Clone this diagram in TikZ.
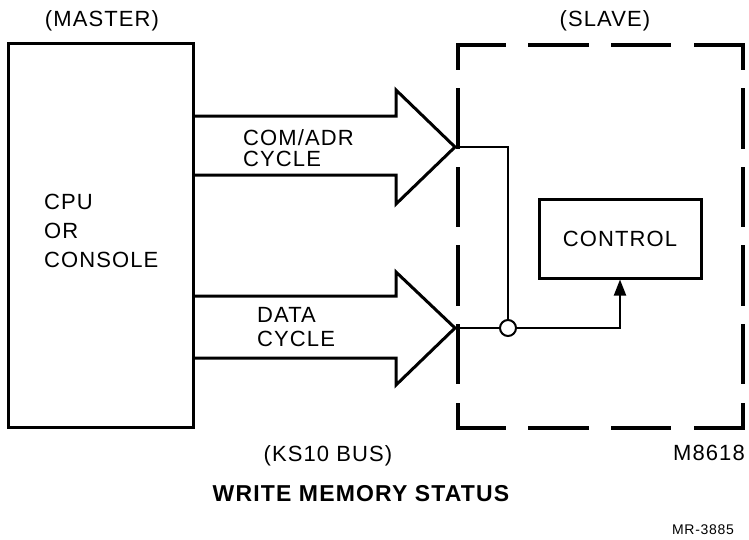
\documentclass[tikz,border=0pt]{standalone}
\usepackage{fontspec}
\setmainfont{Liberation Sans}[LetterSpace=5]
\usepackage{tikz}
\usetikzlibrary{arrows.meta,positioning}

\tikzset{
  box/.style={draw, line width=3pt, inner sep=0pt},
  bus/.style={line width=3pt, line join=miter},
  wire/.style={line width=2pt},
  slaveline/.style={line width=4.5pt, line cap=rect},
  lbl/.style={font=\fontsize{22}{29}\selectfont, inner sep=0pt}
}

\begin{document}
\begin{tikzpicture}[x=1pt, y=-1pt]
\useasboundingbox (0,0) rectangle (749,539);

% Master and slave
\node[box, minimum width=185, minimum height=384] (master) at (100.5,235) {};
\node[lbl, anchor=west, align=left] (cpu) at (44,231) {CPU\\OR\\CONSOLE};
\node[lbl] (mastertitle) at (102,21) {(MASTER)};

\node[minimum width=285, minimum height=383, inner sep=0pt] (slave) at (600.5,236.5) {};
\draw[slaveline, dash pattern=on 56 off 26.7, dash phase=10] (slave.north west) -- (slave.north east);
\draw[slaveline, dash pattern=on 56 off 26.7, dash phase=10] (slave.south west) -- (slave.south east);
\draw[slaveline, dash pattern=on 56 off 22.6, dash phase=33] (slave.north west) -- (slave.south west);
\draw[slaveline, dash pattern=on 56 off 22.6, dash phase=33] (slave.north east) -- (slave.south east);
\node[lbl] (slavetitle) at (605,21) {(SLAVE)};
\node[lbl, anchor=east] (board) at (745,453) {M8618};

\node[box, minimum width=162, minimum height=79] (control) at (620,238.5) {};
\node[lbl] (controltext) at (control) {CONTROL};

% Bus transfers
\coordinate (adrtip) at (455,147);
\coordinate (datatip) at (455,328);
\draw[bus] (193,116) -- (396,116) -- (396,90) -- (adrtip) -- (396,204) -- (396,175) -- (193,175);
\draw[bus] (193,296) -- (396,296) -- (396,272) -- (datatip) -- (396,385) -- (396,358) -- (193,358);
\node[lbl, anchor=west, align=left, font=\fontsize{22}{21}\selectfont] (adrtext) at (243,148) {COM/ADR\\CYCLE};
\node[lbl, anchor=west, align=left, font=\fontsize{22}{24}\selectfont] (datatext) at (257,327) {DATA\\CYCLE};

% Status path
\node[circle, draw, wire, fill=white, minimum size=16, inner sep=0pt] (joint) at (508,328) {};
\draw[wire] (adrtip) -| (joint.north);
\draw[wire] (datatip) -- (joint.west);
\draw[wire, -{Triangle[length=16pt, width=12pt]}] (joint.east) -| (control.south);

% Captions
\node[lbl] (bus) at (328,456) {(KS10 BUS)};
\node[lbl, font=\fontsize{23}{26}\bfseries] (title) at (361,494) {WRITE MEMORY STATUS};
\node[lbl, font=\fontsize{14}{16}\selectfont] (figno) at (703,530) {MR-3885};
\end{tikzpicture}
\end{document}
